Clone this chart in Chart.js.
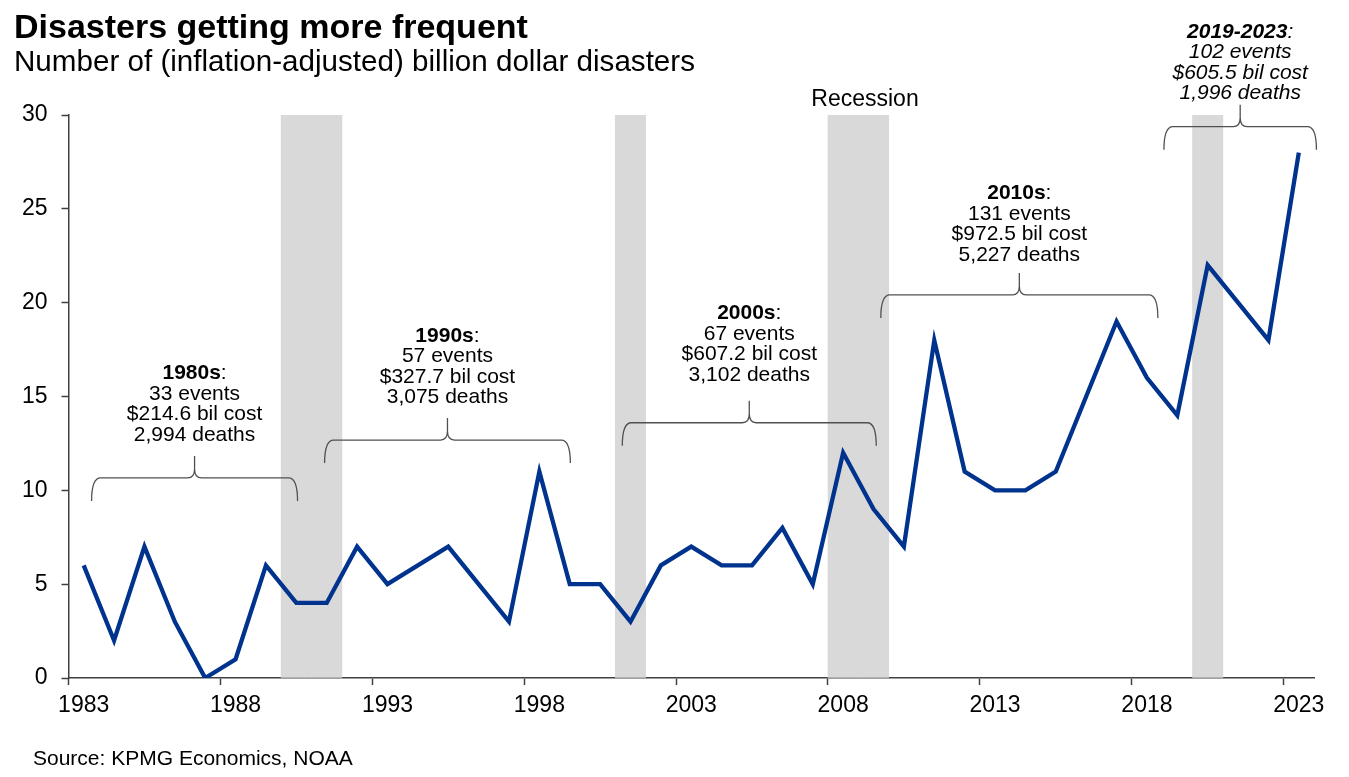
<!DOCTYPE html>
<html>
<head>
<meta charset="utf-8">
<script src="https://cdn.jsdelivr.net/npm/chart.js@4"></script>
<style>
html,body{margin:0;padding:0;background:#fff;}
#wrap{width:1349px;height:777px;position:relative;}
</style>
</head>
<body>
<div id="wrap"><canvas id="c" width="1349" height="777"></canvas></div>
<script>
// ---- data ----
const years = [1983,1984,1985,1986,1987,1988,1989,1990,1991,1992,1993,1994,1995,1996,1997,1998,1999,2000,2001,2002,2003,2004,2005,2006,2007,2008,2009,2010,2011,2012,2013,2014,2015,2016,2017,2018,2019,2020,2021,2022,2023];
const disasters = [6,2,7,3,0,1,6,4,4,7,5,6,7,5,3,11,5,5,3,6,7,6,6,8,5,12,9,7,18,11,10,10,11,15,19,16,14,22,20,18,28];
const recessionYears = [1990,1991,2001,2008,2009,2020];
const yTicks = [0,5,10,15,20,25,30];
const decadeNames = ['1980s','1990s','2000s','2010s','2019-2023'];
const decadeEvents = ['33 events','57 events','67 events','131 events','102 events'];
const decadeCosts = ['$214.6 bil cost','$327.7 bil cost','$607.2 bil cost','$972.5 bil cost','$605.5 bil cost'];
const decadeDeaths = ['2,994 deaths','3,075 deaths','3,102 deaths','5,227 deaths','1,996 deaths'];
const titleText = 'Disasters getting more frequent';
const subtitleText = 'Number of (inflation-adjusted) billion dollar disasters';
const sourceText = 'Source: KPMG Economics, NOAA';
const recessionText = 'Recession';

// ---- layout of annotations (category index / value units) ----
const braceLayout = [
  {x1:0.26,  x2:7.04,  yLine:10.66, yText:16.32, italic:false},
  {x1:7.93,  x2:16.02, yLine:12.68, yText:18.33, italic:false},
  {x1:17.73, x2:26.09, yLine:13.60, yText:19.52, italic:false},
  {x1:26.24, x2:35.36, yLine:20.41, yText:25.91, italic:false},
  {x1:35.56, x2:40.58, yLine:29.38, yText:34.53, italic:true}
];
const recessionLabelPos = {x:25.72, y:30.9};

const FAM = '"Liberation Sans", Arial, Helvetica, sans-serif';
const AXIS = '#404040';

const annotPlugin = {
  id: 'annot',
  afterDraw(chart) {
    const ctx = chart.ctx;
    const xs = chart.scales.x, ys = chart.scales.y;
    ctx.save();
    ctx.fillStyle = '#000';
    ctx.textBaseline = 'alphabetic';
    // title / subtitle / source
    ctx.textAlign = 'left';
    ctx.font = 'bold 34px ' + FAM;
    ctx.fillText(titleText, 14, 38);
    ctx.font = '29.6px ' + FAM;
    ctx.fillText(subtitleText, 14, 71);
    ctx.font = '21px ' + FAM;
    ctx.fillText(sourceText, 33, 765);
    // recession label
    ctx.textAlign = 'center';
    ctx.font = '23px ' + FAM;
    ctx.fillText(recessionText, xs.getPixelForValue(recessionLabelPos.x), ys.getPixelForValue(recessionLabelPos.y) + 0.358*23);
    // braces + decade text
    const fs = 21, lh = 20.5;
    braceLayout.forEach((b, k) => {
      const x1 = xs.getPixelForValue(b.x1), x2 = xs.getPixelForValue(b.x2);
      const xc = (x1 + x2) / 2;
      const y = ys.getPixelForValue(b.yLine);
      const drop = 23, tip = 22, r = 9;
      ctx.strokeStyle = '#505050';
      ctx.lineWidth = 1.3;
      ctx.beginPath();
      ctx.moveTo(x1, y + drop);
      ctx.quadraticCurveTo(x1, y, x1 + r, y);
      ctx.lineTo(xc - 7, y);
      ctx.quadraticCurveTo(xc, y, xc, y - 9);
      ctx.lineTo(xc, y - tip);
      ctx.moveTo(x2, y + drop);
      ctx.quadraticCurveTo(x2, y, x2 - r, y);
      ctx.lineTo(xc + 7, y);
      ctx.quadraticCurveTo(xc, y, xc, y - 9);
      ctx.stroke();
      // text
      const it = b.italic ? 'italic ' : '';
      let ty = ys.getPixelForValue(b.yText) + 0.358*fs;
      ctx.textAlign = 'left';
      ctx.font = it + 'bold ' + fs + 'px ' + FAM;
      const w1 = ctx.measureText(decadeNames[k]).width;
      ctx.font = it + fs + 'px ' + FAM;
      const w2 = ctx.measureText(':').width;
      let sx = xc - (w1 + w2) / 2;
      ctx.font = it + 'bold ' + fs + 'px ' + FAM;
      ctx.fillText(decadeNames[k], sx, ty);
      ctx.font = it + fs + 'px ' + FAM;
      ctx.fillText(':', sx + w1, ty);
      ctx.textAlign = 'center';
      [decadeEvents[k], decadeCosts[k], decadeDeaths[k]].forEach((t, j) => {
        ctx.fillText(t, xc, ty + (j + 1) * lh);
      });
    });
    ctx.restore();
  }
};

new Chart(document.getElementById('c'), {
  type: 'bar',
  data: {
    labels: years.map(String),
    datasets: [
      {
        type: 'line',
        label: 'Billion dollar disasters',
        data: disasters,
        borderColor: '#00338D',
        borderWidth: 4.3,
        pointRadius: 0,
        tension: 0,
        fill: false,
        order: 1,
        borderJoinStyle: 'miter'
      },
      {
        type: 'bar',
        label: 'Recession',
        data: years.map(y => recessionYears.includes(y) ? yTicks[yTicks.length - 1] : null),
        backgroundColor: '#d9d9d9',
        borderWidth: 0,
        barPercentage: 1,
        categoryPercentage: 1,
        order: 2
      }
    ]
  },
  options: {
    responsive: false,
    animation: false,
    layout: {padding: {left: 0, right: 35, top: 115, bottom: 0}},
    plugins: {legend: {display: false}, tooltip: {enabled: false}, title: {display: false}},
    scales: {
      x: {
        offset: true,
        grid: {
          offset: true,
          drawOnChartArea: false,
          drawTicks: true,
          tickLength: 7,
          tickWidth: 1.5,
          tickColor: (c) => (c.index !== undefined && c.index % 5 === 0) ? AXIS : 'rgba(0,0,0,0)'
        },
        border: {color: AXIS, width: 1.5},
        ticks: {
          autoSkip: false, maxRotation: 0, minRotation: 0, padding: 7,
          color: '#000', font: {size: 23, family: FAM},
          callback: (v, i) => (i % 5 === 0 ? String(years[i]) : '')
        },
        afterFit: (s) => { s.height = 99; }
      },
      y: {
        min: yTicks[0], max: yTicks[yTicks.length - 1],
        afterBuildTicks: (s) => { s.ticks = yTicks.map(v => ({value: v})); },
        grid: {drawOnChartArea: false, tickLength: 7, tickWidth: 1.5, tickColor: AXIS},
        border: {color: AXIS, width: 1.5},
        ticks: {padding: 14, color: '#000', font: {size: 23, family: FAM}},
        afterFit: (s) => { s.width = 68.5; }
      }
    }
  },
  plugins: [annotPlugin]
});
</script>
</body>
</html>
